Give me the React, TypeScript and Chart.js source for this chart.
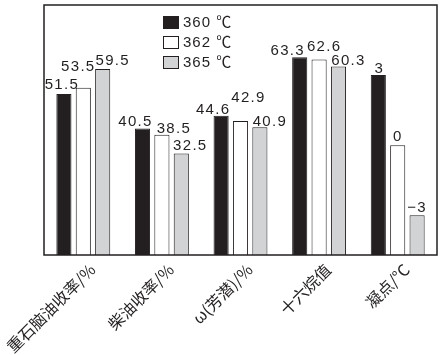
import React, { useEffect, useRef } from 'react';
import { Chart, registerables } from 'chart.js';

Chart.register(...registerables);

// ---- data ----
const categories = ['重石脑油收率/%', '柴油收率/%', 'ω(芳潜)/%', '十六烷值', '凝点/°C'];
const seriesNames = ['360 ℃', '362 ℃', '365 ℃'];
// first four categories (left value scale)
const s360 = [51.5, 40.5, 44.6, 63.3];
const s362 = [53.5, 38.5, 42.9, 62.6];
const s365 = [59.5, 32.5, 40.9, 60.3];
// 凝点/°C (its own value scale), per series
const pourPoint = [3, 0, -3];

const Y_MIN = 0;
const Y_MAX = 80;
const Y2_MIN = -4.7;
const Y2_MAX = 6;

// ---- style ----
const INK = '#231f20';
const fills = [INK, '#ffffff', '#d1d3d4'];
const LATIN = '"Liberation Sans", Arial, "Noto Sans CJK SC", sans-serif';
const CJK = '"Noto Sans CJK SC", "Liberation Sans", sans-serif';
// label nudges [dx, dy] in px, per series, per category (avoid overlap as in source)
const labelNudge = [
  [[-2, -2], [-7, 1], [-8, 1], [-12, 1], [1, 1]],
  [[-5, -14], [12, 1], [8, -16], [5, -5], [0, -1]],
  [[10, -1], [9, 0], [10, 2], [10, 1], [0, 0]],
];

const fmt = (v: number) => (v < 0 ? '\u2212' + Math.abs(v) : String(v));

const decorPlugin = {
  id: 'decor',
  afterDatasetsDraw(chart: any) {
    const ctx = chart.ctx as CanvasRenderingContext2D;
    const area = chart.chartArea;
    ctx.save();
    // frame
    ctx.strokeStyle = INK;
    ctx.lineWidth = 1.5;
    ctx.strokeRect(area.left, area.top, area.right - area.left, area.bottom - area.top);

    // value labels
    ctx.fillStyle = INK;
    ctx.font = `15px ${LATIN}`;
    (ctx as any).letterSpacing = '1.3px';
    ctx.textAlign = 'center';
    ctx.textBaseline = 'alphabetic';
    chart.data.datasets.forEach((ds: any, di: number) => {
      const meta = chart.getDatasetMeta(di);
      const s = ds.seriesIndex;
      meta.data.forEach((el: any, ci: number) => {
        const v = ds.data[ci];
        if (v === null || v === undefined) return;
        const top = Math.min(el.y, el.base);
        const [dx, dy] = labelNudge[s][ci];
        ctx.fillText(fmt(v), el.x + dx, top - 3 + dy);
      });
    });

    // legend
    const lx = area.left + 119;
    const ly = area.top + 11;
    ctx.font = `15px ${LATIN}`;
    (ctx as any).letterSpacing = '1px';
    ctx.textAlign = 'left';
    ctx.textBaseline = 'middle';
    seriesNames.forEach((name, i) => {
      const y = ly + i * 20;
      ctx.fillStyle = fills[i];
      ctx.fillRect(lx, y, 16, 13);
      ctx.strokeStyle = INK;
      ctx.lineWidth = 1;
      ctx.strokeRect(lx + 0.5, y + 0.5, 15, 12);
      ctx.fillStyle = INK;
      ctx.fillText(name, lx + 20, y + 7);
    });
    ctx.restore();
  },
};

export default function App() {
  const ref = useRef<HTMLCanvasElement | null>(null);

  useEffect(() => {
    if (!ref.current) return;
    const mainSeries = [s360, s362, s365];
    const datasets: any[] = [];
    mainSeries.forEach((arr, i) => {
      datasets.push({
        label: seriesNames[i],
        seriesIndex: i,
        data: [...arr, null],
        yAxisID: 'y',
        stack: 's' + i,
        backgroundColor: fills[i],
        borderColor: INK,
        borderWidth: 1,
        categoryPercentage: 0.74,
        barPercentage: 0.78,
      });
    });
    pourPoint.forEach((v, i) => {
      datasets.push({
        label: seriesNames[i] + ' 凝点',
        seriesIndex: i,
        data: [null, null, null, null, v],
        yAxisID: 'y2',
        stack: 's' + i,
        base: Y2_MIN,
        backgroundColor: fills[i],
        borderColor: INK,
        borderWidth: 1,
        categoryPercentage: 0.74,
        barPercentage: 0.78,
      });
    });

    const chart = new Chart(ref.current, {
      type: 'bar',
      data: { labels: categories, datasets },
      options: {
        responsive: false,
        animation: false,
        layout: { padding: { left: 44, right: 10, top: 5, bottom: 0 } },
        plugins: { legend: { display: false }, tooltip: { enabled: false } },
        scales: {
          x: {
            type: 'category',
            offset: true,
            grid: { display: false, drawTicks: false },
            border: { display: false },
            ticks: {
              minRotation: 45,
              maxRotation: 45,
              autoSkip: false,
              padding: 5,
              labelOffset: 9,
              color: INK,
              font: { family: CJK, size: 16 },
            },
            afterFit: (s: any) => {
              s.height = 100;
              s.paddingLeft = 0;
              s.paddingRight = 0;
            },
          },
          y: { display: false, min: Y_MIN, max: Y_MAX },
          y2: { display: false, min: Y2_MIN, max: Y2_MAX, position: 'right' },
        },
      } as any,
      plugins: [decorPlugin],
    });
    return () => chart.destroy();
  }, []);

  return (
    <div style={{ position: 'absolute', left: 0, top: 0, width: 447, height: 355, background: '#fff' }}>
      <canvas ref={ref} width={447} height={355} style={{ display: 'block' }} />
    </div>
  );
}
